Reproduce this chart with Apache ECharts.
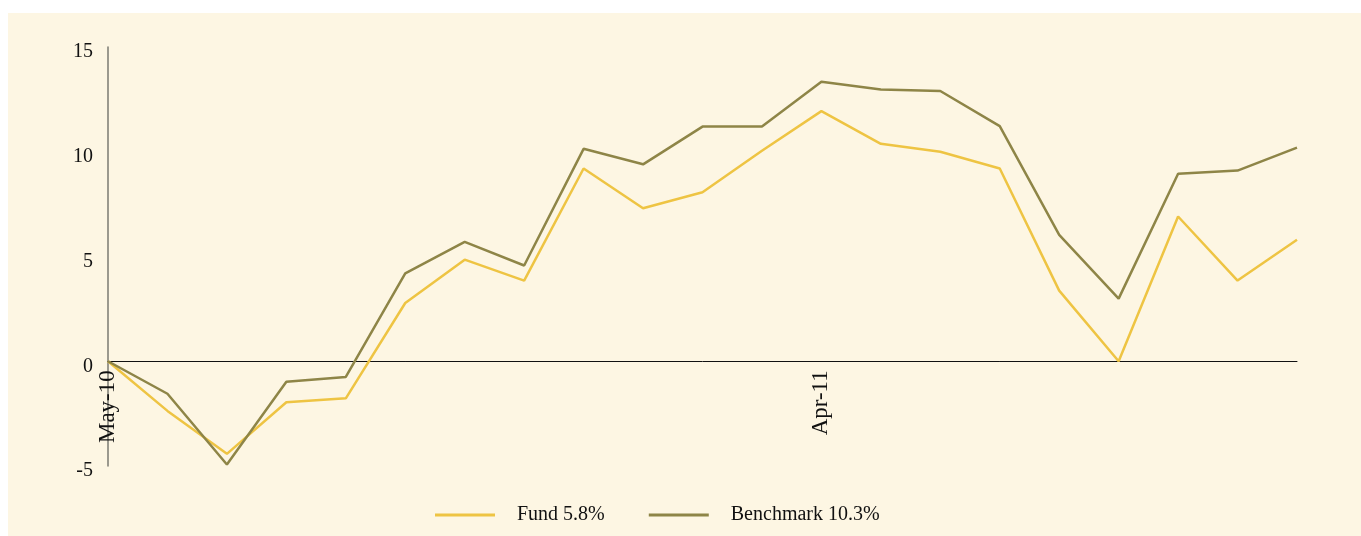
<!DOCTYPE html>
<html>
<head>
<meta charset="utf-8">
<script src="https://cdn.jsdelivr.net/npm/echarts@6/dist/echarts.min.js"></script>
<style>
  html, body { margin: 0; padding: 0; background: #ffffff; }
  #chart { position: absolute; left: 8px; top: 13px; width: 1353px; height: 523px; background: #fdf6e3; }
</style>
</head>
<body>
<div id="chart"></div>
<script>
const categories = ['May-10','Jun-10','Jul-10','Aug-10','Sep-10','Oct-10','Nov-10','Dec-10','Jan-11','Feb-11','Mar-11','Mar-11 ','Apr-11','May-11','Jun-11','Jul-11','Aug-11','Sep-11','Oct-11','Nov-11','Dec-11'];
const fundValues = [0, -2.37, -4.42, -1.96, -1.77, 2.78, 4.85, 3.85, 9.2, 7.3, 8.07, 10.05, 11.94, 10.38, 10.0, 9.2, 3.37, 0, 6.91, 3.85, 5.8];
const benchValues = [0, -1.55, -4.93, -0.98, -0.75, 4.19, 5.7, 4.57, 10.14, 9.4, 11.2, 11.2, 13.34, 12.97, 12.9, 11.22, 6.03, 2.99, 8.95, 9.1, 10.2];
const seriesNames = ['Fund 5.8%', 'Benchmark 10.3%'];
const yTicks = { min: -5, max: 15, interval: 5 };

const font = 'Liberation Serif';
const gridTop = 34, gridBottom = 70, chartH = 523;
const plotH = chartH - gridTop - gridBottom;
const zeroOffset = plotH * (0 - yTicks.min) / (yTicks.max - yTicks.min);

const chart = echarts.init(document.getElementById('chart'));
chart.setOption({
  backgroundColor: '#fdf6e3',
  animation: false,
  textStyle: { fontFamily: font },
  grid: { left: 100, right: 64, top: gridTop, bottom: gridBottom },
  legend: {
    left: 422, top: 487,
    icon: 'rect', itemWidth: 60, itemHeight: 3, itemGap: 44,
    textStyle: { fontFamily: font, fontSize: 20, color: '#111', padding: [0, 0, 0, 17] },
    data: seriesNames
  },
  xAxis: {
    type: 'category',
    data: categories,
    boundaryGap: false,
    offset: -zeroOffset,
    axisLine: { onZero: false, lineStyle: { color: '#111', width: 1 } },
    axisTick: { show: false },
    axisLabel: { interval: 11, rotate: 90, fontFamily: font, fontSize: 23, color: '#111', margin: 9 },
    splitLine: { show: false }
  },
  yAxis: {
    type: 'value',
    min: yTicks.min, max: yTicks.max, interval: yTicks.interval,
    axisLine: { show: true, onZero: false, lineStyle: { color: '#7a7a72', width: 1.5 } },
    axisTick: { show: false },
    axisLabel: {
      margin: 15,
      formatter: function (v) { return '{a|' + v + '}'; },
      rich: { a: { fontFamily: font, fontSize: 20, color: '#111', padding: [10, 0, 0, 0] } }
    },
    splitLine: { show: false }
  },
  series: [
    { name: seriesNames[0], type: 'line', data: fundValues, symbol: 'none',
      lineStyle: { color: '#eec443', width: 2.5 }, itemStyle: { color: '#eec443' } },
    { name: seriesNames[1], type: 'line', data: benchValues, symbol: 'none',
      lineStyle: { color: '#8e8547', width: 2.5 }, itemStyle: { color: '#8e8547' } }
  ]
});
</script>
</body>
</html>
